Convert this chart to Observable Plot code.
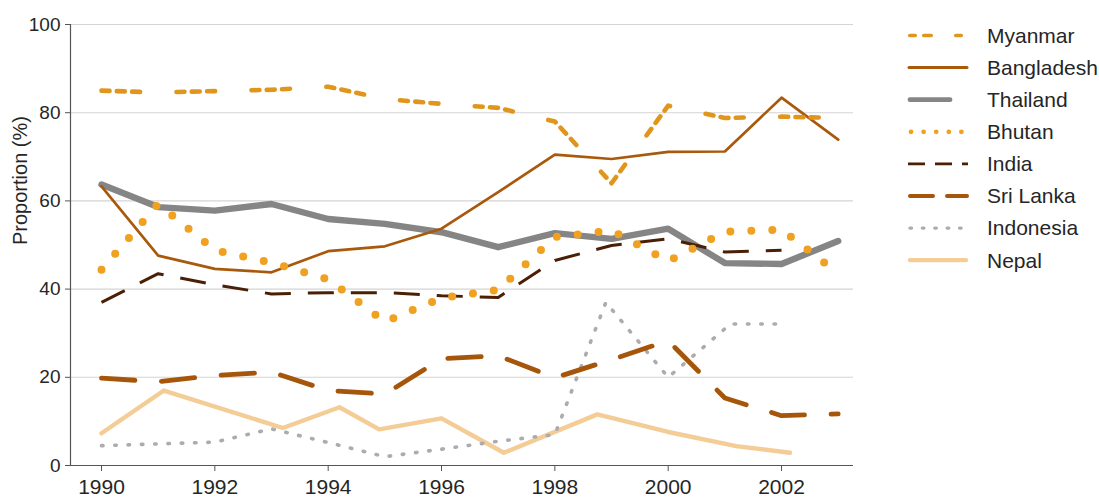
<!DOCTYPE html>
<html><head><meta charset="utf-8">
<script src="https://cdn.jsdelivr.net/npm/d3@7"></script>
<script src="https://cdn.jsdelivr.net/npm/@observablehq/plot@0.6"></script>
<style>
body{margin:0;background:#fff;font-family:"Liberation Sans",Arial,sans-serif;}
#wrap{position:relative;width:1099px;height:497px;overflow:hidden;}
#wrap svg{position:absolute;left:0;top:0;}
</style></head><body><div id="wrap"></div>
<script>
// ---- data ----
const years = [1990,1991,1992,1993,1994,1995,1996,1997,1998,1999,2000,2001,2002,2003];
const indiaYears = [1990,1991,1992,1993,1994,1995,1996,1997,1998,1999,2000,2001,2002];
const indonesiaYears = [1990,1991,1992,1993,1994,1995,1996,1997,1998,1998.9,2000,2001.1,2002.1];
const nepalYears = [1990,1991.1,1993.2,1994.2,1994.9,1996,1997.1,1998.75,2000,2001.2,2002.15];
const xTicks = [1990,1992,1994,1996,1998,2000,2002];
const yTicks = [0,20,40,60,80,100];
const countries = ["Myanmar","Bangladesh","Thailand","Bhutan","India","Sri Lanka","Indonesia","Nepal"];

const myanmar    = [85.0,84.6,84.9,85.2,85.9,83.1,82.0,81.1,78.0,64.0,81.6,78.8,79.1,78.8];
const bangladesh = [63.3,47.6,44.6,43.8,48.6,49.7,53.7,62.0,70.5,69.5,71.1,71.2,83.4,73.9];
const thailand   = [63.7,58.6,57.8,59.3,55.9,54.8,52.9,49.5,52.7,51.4,53.7,45.9,45.7,50.9];
const bhutan     = [44.4,59.3,48.8,46.0,42.2,32.6,38.0,39.8,51.8,53.3,46.3,53.0,53.5,43.6];
const india      = [37.0,43.5,41.0,38.9,39.2,39.2,38.5,38.1,46.5,49.9,51.4,48.4,48.8];
const sriLanka   = [19.8,19.0,20.4,21.2,17.0,16.2,24.2,24.9,19.9,24.0,28.3,15.3,11.3,11.7];
const indonesia  = [4.5,4.9,5.3,8.3,5.2,2.0,3.7,5.5,7.0,37.0,20.0,32.1,32.1];
const nepal      = [7.3,17.0,8.5,13.2,8.2,10.7,2.9,11.6,7.6,4.4,2.9];

// ---- styles (not data) ----
const styles = {
  "Myanmar":   {stroke:"#e0961c", w:4.6, dash:"8,7.3,8,7.3,8,36.4", cap:"round",
                lw:3.6, ldash:"5.5,8.5,7.5,24.5", lcap:"round", lx1:909.75, lx2:963.5},
  "Bangladesh":{stroke:"#a9590c", w:2.7, dash:null, cap:"round",
                lw:3, ldash:null, lcap:"round", lx1:909, lx2:967},
  "Thailand":  {stroke:"#858585", w:6.4, dash:null, cap:"round",
                lw:4.8, ldash:null, lcap:"round", lx1:910, lx2:950},
  "Bhutan":    {stroke:"#f0a11f", w:8, dash:"0,21", cap:"round",
                lw:4.8, ldash:"0,12.6", lcap:"round", lx1:911, lx2:963},
  "India":     {stroke:"#4a1f06", w:3, dash:"26,17", cap:"butt",
                lw:2.8, ldash:"17,10", lcap:"butt", lx1:908, lx2:968},
  "Sri Lanka": {stroke:"#a5560a", w:4.8, dash:"33.5,26.5", cap:"round",
                lw:4, ldash:"23,14", lcap:"round", lx1:910, lx2:967},
  "Indonesia": {stroke:"#acacaf", w:3.6, dash:"1.5,11.8", cap:"round",
                lw:3.4, ldash:"1.5,10.9", lcap:"round", lx1:910, lx2:962},
  "Nepal":     {stroke:"#f3cc96", w:4.4, dash:null, cap:"round",
                lw:4.2, ldash:null, lcap:"round", lx1:910, lx2:966}
};

const series = {
  "Myanmar":[years,myanmar], "Bangladesh":[years,bangladesh], "Thailand":[years,thailand],
  "Bhutan":[years,bhutan], "India":[indiaYears,india], "Sri Lanka":[years,sriLanka],
  "Indonesia":[indonesiaYears,indonesia], "Nepal":[nepalYears,nepal]
};
const drawOrder = ["Thailand","Nepal","Indonesia","Sri Lanka","India","Bangladesh","Bhutan","Myanmar"];

const lineMarks = drawOrder.map(name => {
  const [xs, ys] = series[name];
  const rows = xs.map((x, i) => ({x, y: ys[i]}));
  const s = styles[name];
  const o = {x:"x", y:"y", stroke:s.stroke, strokeWidth:s.w, strokeLinecap:s.cap, strokeLinejoin:"round"};
  if (s.dash) o.strokeDasharray = s.dash;
  return Plot.line(rows, o);
});

const xDomain = [1989.453, 2003.27];
const axisColor = "#555";
const textColor = "#262626";

const chart = Plot.plot({
  width: 1099, height: 497,
  marginLeft: 70, marginRight: 246, marginTop: 24, marginBottom: 32,
  style: {fontFamily: '"Liberation Sans", Arial, sans-serif', background: "#fff", overflow: "visible"},
  x: {domain: xDomain},
  y: {domain: [0, 100]},
  marks: [
    Plot.gridY(yTicks.filter(d => d > 0), {stroke:"#d4d4d4", strokeOpacity:1, strokeWidth:1.1}),
    ...lineMarks,
    Plot.ruleY([0], {stroke: axisColor, strokeWidth:1.2}),
    Plot.ruleX([xDomain[0]], {stroke: axisColor, strokeWidth:1.2}),
    Plot.axisX(xTicks, {tickSize:6, tickPadding:8, fontSize:21, tickFormat: d => String(d),
      stroke: axisColor, fill: textColor, label: null}),
    Plot.axisY(yTicks, {tickSize:5, tickPadding:5, fontSize:19, tickFormat: d => String(d),
      stroke: axisColor, fill: textColor, label: null}),
    Plot.text(["Proportion (%)"], {frameAnchor:"left", rotate:-90, dx:-50, text: d => d,
      fontSize:20, fill: textColor})
  ]
});
document.getElementById("wrap").appendChild(chart);

// ---- legend (beside the plot) ----
const leg = d3.select("#wrap").append("svg")
  .attr("width", 1099).attr("height", 497)
  .style("pointer-events", "none");
countries.forEach((name, i) => {
  const s = styles[name];
  const cy = 35.5 + i * 32.1;
  const ln = leg.append("line")
    .attr("x1", s.lx1).attr("x2", s.lx2).attr("y1", cy).attr("y2", cy)
    .attr("stroke", s.stroke).attr("stroke-width", s.lw).attr("stroke-linecap", s.lcap);
  if (s.ldash) ln.attr("stroke-dasharray", s.ldash);
  leg.append("text").attr("x", 987).attr("y", cy).attr("dy", "0.35em")
    .attr("font-size", 21).attr("fill", textColor)
    .attr("font-family", '"Liberation Sans", Arial, sans-serif')
    .text(name);
});
</script></body></html>
